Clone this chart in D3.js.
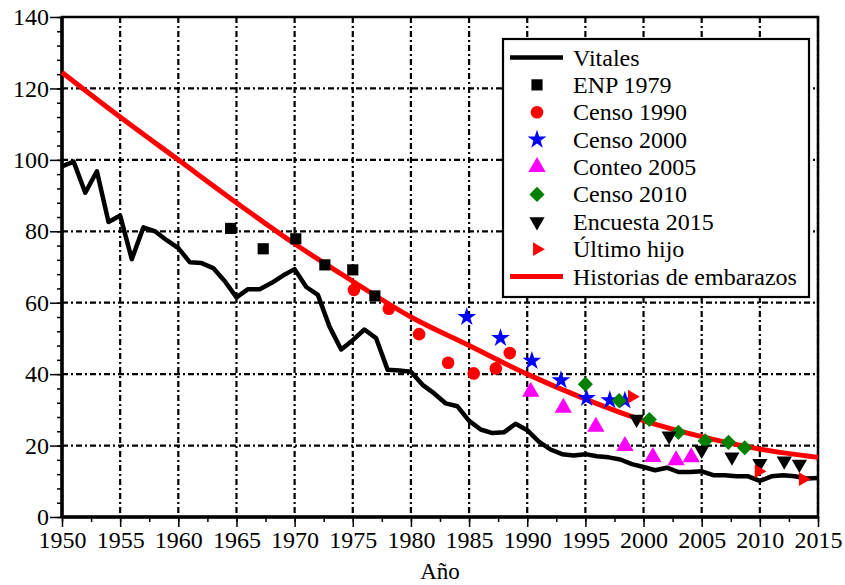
<!DOCTYPE html>
<html>
<head>
<meta charset="utf-8">
<script src="https://d3js.org/d3.v7.min.js"></script>
<style>
  body { margin: 0; background: #fff; }
  text { font-family: "Liberation Serif", "DejaVu Serif", serif; }
</style>
</head>
<body>
<svg width="845" height="585"></svg>
<script>
// ---- data ----
var vitalesYears = d3.range(1950, 2016);
var vitalesVals = [98.2, 99.5, 90.8, 96.8, 82.6, 84.4, 72.2, 81.1, 80.0, 77.5,
                   75.3, 71.3, 71.1, 69.7, 66.0, 61.5, 63.8, 63.8, 65.5, 67.6,
                   69.4, 64.4, 62.2, 53.3, 46.9, 49.5, 52.5, 50.1, 41.2, 41.0,
                   40.7, 37.0, 34.6, 31.8, 31.0, 26.9, 24.5, 23.5, 23.7, 26.1,
                   24.3, 21.1, 18.9, 17.6, 17.2, 17.6, 17.0, 16.7, 16.1, 14.8,
                   14.0, 13.1, 13.8, 12.6, 12.6, 12.8, 11.7, 11.7, 11.4, 11.4,
                   10.1, 11.4, 11.7, 11.4, 10.8, 10.9];

var historiasYears = [1950, 1955, 1960, 1965, 1970, 1975, 1980, 1985, 1990, 1995, 2000, 2005, 2010, 2015];
var historiasVals  = [124.5, 112.0, 100.0, 88.0, 76.5, 66.0, 56.0, 48.0, 40.0, 33.0, 27.0, 22.5, 19.0, 16.7];

var enp1979 = [[1964.5, 80.8], [1967.3, 75.1], [1970.1, 77.9], [1972.6, 70.6], [1975.0, 69.2], [1976.9, 61.9]];
var censo1990 = [[1975.1, 63.6], [1978.1, 58.3], [1980.7, 51.2], [1983.2, 43.2], [1985.4, 40.2], [1987.3, 41.6], [1988.5, 45.9]];
var censo2000 = [[1984.8, 56.0], [1987.7, 50.1], [1990.4, 43.7], [1992.9, 38.3], [1995.1, 33.3], [1997.1, 32.7], [1998.4, 32.6]];
var conteo2005 = [[1990.3, 35.1], [1993.1, 30.6], [1995.9, 25.3], [1998.4, 19.9], [2000.8, 16.8], [2002.8, 15.9], [2004.1, 16.7]];
var censo2010 = [[1995.0, 37.2], [1997.9, 32.6], [2000.5, 27.3], [2003.0, 23.7], [2005.3, 21.3], [2007.3, 20.9], [2008.7, 19.4]];
var encuesta2015 = [[1999.4, 27.4], [2002.2, 22.7], [2005.0, 18.7], [2007.6, 16.8], [2010.0, 15.0], [2012.1, 15.7], [2013.4, 14.8]];
var ultimoHijo = [[1999.0, 33.7], [2009.9, 12.8], [2013.7, 10.6]];

var xTicks = d3.range(1950, 2016, 5);
var yTicks = d3.range(0, 141, 20);

// ---- layout ----
var svg = d3.select("svg"),
    pL = 62, pR = 818, pT = 17, pB = 517;

var x = d3.scaleLinear().domain([1950, 2015]).range([pL, pR]),
    y = d3.scaleLinear().domain([0, 140]).range([pB, pT]);

// grid (dash-dot)
var grid = svg.append("g");
grid.selectAll(".gx").data(xTicks).enter().append("line")
    .attr("x1", d => x(d)).attr("x2", d => x(d))
    .attr("y1", pT).attr("y2", pB)
    .attr("stroke", "#000").attr("stroke-width", 2.2)
    .attr("stroke-dasharray", "6,3,2,3");
grid.selectAll(".gy").data(yTicks).enter().append("line")
    .attr("x1", pL).attr("x2", pR)
    .attr("y1", d => y(d)).attr("y2", d => y(d))
    .attr("stroke", "#000").attr("stroke-width", 2.2)
    .attr("stroke-dasharray", "6,3,2,3");

// axes
svg.append("g").attr("transform", "translate(0," + pB + ")")
    .call(d3.axisBottom(x).tickValues(d3.range(1950, 2015.1, 2.5)).tickSize(5).tickFormat(""));
svg.append("g").attr("transform", "translate(0," + pB + ")")
    .call(d3.axisBottom(x).tickValues(xTicks).tickSize(10).tickPadding(4).tickFormat(d3.format("d")));
svg.append("g").attr("transform", "translate(" + pL + ",0)")
    .call(d3.axisLeft(y).tickValues(d3.range(0, 141, 4)).tickSize(5).tickFormat(""));
svg.append("g").attr("transform", "translate(" + pL + ",0)")
    .call(d3.axisLeft(y).tickValues(yTicks).tickSize(12).tickPadding(1));

svg.selectAll(".domain").remove();
svg.selectAll(".tick line").attr("stroke", "#000").attr("stroke-width", 1.5);
svg.selectAll(".tick text").attr("fill", "#000")
    .style("font-family", "'Liberation Serif', serif").style("font-size", "24px");

// frame
svg.append("rect").attr("x", pL).attr("y", pT)
    .attr("width", pR - pL).attr("height", pB - pT)
    .attr("fill", "none").attr("stroke", "#000").attr("stroke-width", 2.5);
svg.append("line").attr("x1", pL).attr("x2", pL).attr("y1", pT).attr("y2", pB)
    .attr("stroke", "#000").attr("stroke-width", 3.5);
svg.append("line").attr("x1", pL).attr("x2", pR).attr("y1", pB).attr("y2", pB)
    .attr("stroke", "#000").attr("stroke-width", 3.5);

svg.append("text").attr("x", (pL + pR) / 2).attr("y", 579)
    .attr("text-anchor", "middle").style("font-size", "23px").text("Año");

// series lines
var plot = svg.append("g");
var line = d3.line().x(d => x(d[0])).y(d => y(d[1]));

plot.append("path")
    .datum(vitalesYears.map((yr, i) => [yr, vitalesVals[i]]))
    .attr("d", line).attr("fill", "none")
    .attr("stroke", "#000").attr("stroke-width", 4.5).attr("stroke-linejoin", "round");

plot.append("path")
    .datum(historiasYears.map((yr, i) => [yr, historiasVals[i]]))
    .attr("d", line.curve(d3.curveMonotoneX)).attr("fill", "none")
    .attr("stroke", "#ff0000").attr("stroke-width", 5);

// marker series
var series = [
  {name: "ENP 1979", data: enp1979, type: d3.symbolSquare, size: 125, rot: 0, color: "#000"},
  {name: "Censo 1990", data: censo1990, type: d3.symbolCircle, size: 125, rot: 0, color: "#ff0000"},
  {name: "Censo 2000", data: censo2000, type: d3.symbolStar, size: 110, rot: 0, color: "#0000ff"},
  {name: "Conteo 2005", data: conteo2005, type: d3.symbolTriangle, size: 130, rot: 0, color: "#ff00ff"},
  {name: "Censo 2010", data: censo2010, type: d3.symbolSquare, size: 115, rot: 45, color: "#008000"},
  {name: "Encuesta 2015", data: encuesta2015, type: d3.symbolTriangle, size: 100, rot: 180, color: "#000"},
  {name: "Último hijo", data: ultimoHijo, type: d3.symbolTriangle, size: 80, rot: 90, color: "#ff0000"}
];

series.forEach(function(s) {
  plot.append("g").selectAll("path").data(s.data).enter().append("path")
      .attr("d", d3.symbol().type(s.type).size(s.size))
      .attr("transform", d => "translate(" + x(d[0]) + "," + y(d[1]) + ") rotate(" + s.rot + ")")
      .attr("fill", s.color);
});

// legend
var lg = svg.append("g");
lg.append("rect").attr("x", 503).attr("y", 39).attr("width", 306).attr("height", 258)
    .attr("fill", "#fff").attr("stroke", "#000").attr("stroke-width", 2.2);

var rowY = d3.scaleLinear().domain([0, 8]).range([57.5, 276.5]);
var legendItems = [{name: "Vitales", line: "#000"}].concat(series)
    .concat([{name: "Historias de embarazos", line: "#ff0000"}]);

legendItems.forEach(function(it, i) {
  var cy = rowY(i);
  if (it.line) {
    lg.append("line").attr("x1", 510).attr("x2", 563).attr("y1", cy).attr("y2", cy)
        .attr("stroke", it.line).attr("stroke-width", it.line === "#000" ? 4.5 : 5);
  } else {
    lg.append("path").attr("d", d3.symbol().type(it.type).size(it.size))
        .attr("transform", "translate(537," + cy + ") rotate(" + it.rot + ")")
        .attr("fill", it.color);
  }
  lg.append("text").attr("x", 573).attr("y", cy + 8)
      .style("font-size", "24px").text(it.name);
});
</script>
</body>
</html>
